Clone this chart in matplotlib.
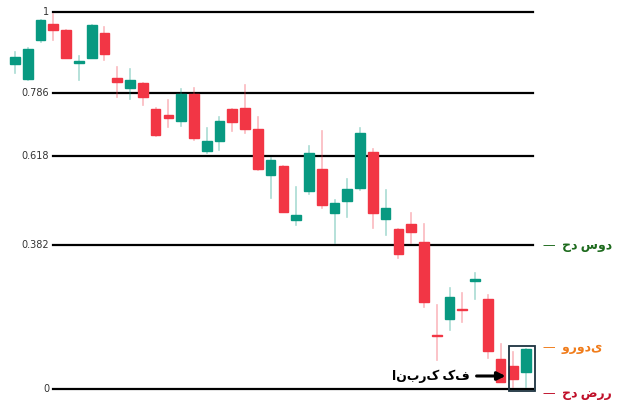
import matplotlib
matplotlib.use("Agg")
import matplotlib.pyplot as plt
from matplotlib.patches import Rectangle

opens  = [325,310,349,365,359,326,331,356,311,301,306,280,274,268,295,238,248,280,281,260,214,223,169,198,220,176,188,201,237,170,160,165,147,54,70,80,108,90,30,23,17]
closes = [332,340,369,359,331,328,364,335,307,309,292,254,271,295,251,248,268,267,260,220,229,177,174,236,184,186,200,256,176,181,135,157,87,53,92,79,110,38,7,10,40]
highs  = [337,341,369,375,359,333,364,362,322,320,306,281,289,300,301,261,272,280,304,272,231,223,202,243,258,189,210,261,240,199,160,176,165,84,101,96,116,94,45,37,40]
lows   = [316,309,347,349,331,309,331,329,292,290,284,253,262,263,249,236,239,258,256,219,191,177,164,195,181,146,172,199,161,154,131,146,82,29,59,67,90,31,7,2,2]
fib_levels = [0,144,233,296,377]
fib_labels = ["0","0.382","0.618","0.786","1"]

GREEN = "#089981"; RED = "#F23645"
fig = plt.figure(figsize=(6.24,4.08), dpi=100)
ax = fig.add_axes([0,0,1,1])
step = 12.78
ax.set_xlim(-15/step, (624-15)/step)
ax.set_ylim(389-408, 389)
ax.axis("off")

x0, x1 = (53-15)/step, (533-15)/step
for lv, lb in zip(fib_levels, fib_labels):
    ax.plot([x0, x1], [lv, lv], color="black", lw=1.6, zorder=1)
    ax.text(x0-0.3, lv, lb, ha="right", va="center", fontsize=7, color="#333333")

for i,(o,c,h,l) in enumerate(zip(opens,closes,highs,lows)):
    col = GREEN if c >= o else RED
    ax.plot([i,i],[l,h], color=col, alpha=0.35, lw=1.2, zorder=2)
    b = max(abs(c-o), 1.5)
    ax.add_patch(Rectangle((i-0.38, min(o,c)), 0.76, b, color=col, zorder=3))

ax.add_patch(Rectangle((38.65, -2), 2.0, 45, fill=False, ec="#1d3340", lw=1.3, zorder=4))
ax.annotate("", xy=(38.6, 13), xytext=(35.9, 13),
            arrowprops=dict(arrowstyle="-|>", color="black", lw=2.2, mutation_scale=12))
fam = ["Noto Sans", "DejaVu Sans"]
ax.text(35.6, 13, "انبرک کف", ha="right", va="center", fontsize=9, fontweight="bold", family=fam)
ax.text(41.3, 144, "—  حد سود", ha="left", va="center", fontsize=9, fontweight="bold", color="#1e6b1e", family=fam)
ax.text(41.3, 42, "—  ورودی", ha="left", va="center", fontsize=9, fontweight="bold", color="#f07c1b", family=fam)
ax.text(41.3, -4, "—  حد ضرر", ha="left", va="center", fontsize=9, fontweight="bold", color="#c0102a", family=fam)

fig.savefig("out.png", dpi=100)
